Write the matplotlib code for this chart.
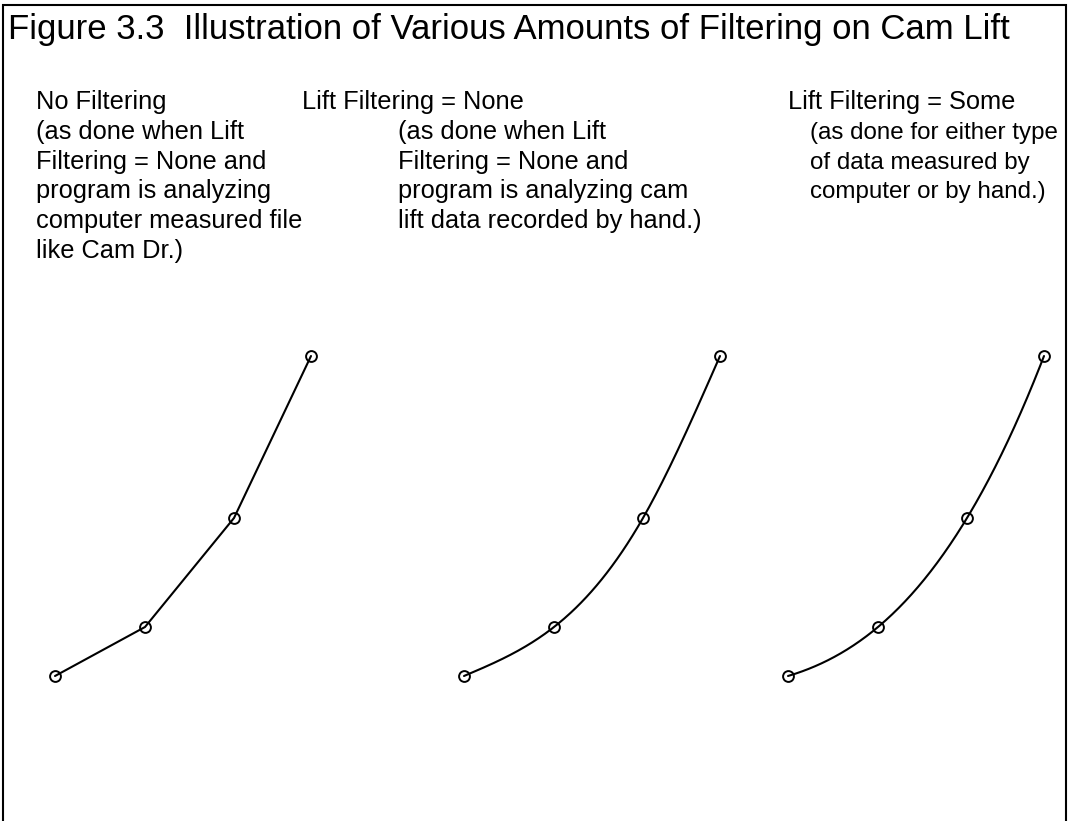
import numpy as np
import matplotlib
matplotlib.use('Agg')
import matplotlib.pyplot as plt
from matplotlib.patches import Rectangle

plt.rcParams['font.family'] = ['Liberation Sans', 'DejaVu Sans']

# cam angle (deg) and lift (in) of the four measured points
angle = [0.0, 9.0, 17.9, 25.6]
lift = [0.100, 0.149, 0.258, 0.420]

title = 'Figure 3.3  Illustration of Various Amounts of Filtering on Cam Lift'
headings = ['No Filtering', 'Lift Filtering = None', 'Lift Filtering = Some']
notes = [
    ['(as done when Lift', 'Filtering = None and', 'program is analyzing',
     'computer measured file', 'like Cam Dr.)'],
    ['(as done when Lift', 'Filtering = None and', 'program is analyzing cam',
     'lift data recorded by hand.)'],
    ['(as done for either type', 'of data measured by', 'computer or by hand.)'],
]
methods = ['straight', 'natural', 'cubic']


def natural_spline(x, y, n=200):
    x = np.asarray(x, float)
    y = np.asarray(y, float)
    k = len(x)
    h = np.diff(x)
    A = np.zeros((k, k))
    r = np.zeros(k)
    A[0, 0] = A[-1, -1] = 1
    for i in range(1, k - 1):
        A[i, i - 1] = h[i - 1]
        A[i, i] = 2 * (h[i - 1] + h[i])
        A[i, i + 1] = h[i]
        r[i] = 6 * ((y[i + 1] - y[i]) / h[i] - (y[i] - y[i - 1]) / h[i - 1])
    m = np.linalg.solve(A, r)
    xs = np.linspace(x[0], x[-1], n)
    ys = np.zeros_like(xs)
    for j, xv in enumerate(xs):
        i = min(np.searchsorted(x, xv, side='right') - 1, k - 2)
        t = xv - x[i]
        a = (m[i + 1] - m[i]) / (6 * h[i])
        b = m[i] / 2
        c = (y[i + 1] - y[i]) / h[i] - h[i] * (2 * m[i] + m[i + 1]) / 6
        ys[j] = y[i] + c * t + b * t ** 2 + a * t ** 3
    return xs, ys


W, H = 1069, 821
fig = plt.figure(figsize=(W / 100, H / 100), dpi=100)

# border (bottom edge runs off the page)
fig.patches.append(Rectangle((3 / W, -0.05), 1063 / W, 1.05 - 5 / H, transform=fig.transFigure,
                             fill=False, edgecolor='black', linewidth=1.5, clip_on=False))

fig.text(8 / W, 1 - 39 / H, title, fontsize=25, va='baseline', ha='left')

lefts = [30, 439, 763]
head_x = [36, 302, 788]
note_x = [36, 398, 810]
note_fs = [18.3, 18.3, 17.4]
for k in range(3):
    ax = fig.add_axes([lefts[k] / W, 95 / H, 330 / W, 400 / H])
    ax.set_xlim(-2.5, 30.5)
    ax.set_ylim(0.05, 0.45)
    ax.axis('off')
    if methods[k] == 'straight':
        xs, ys = angle, lift
    elif methods[k] == 'natural':
        xs, ys = natural_spline(angle, lift)
    else:
        c = np.polyfit(angle, lift, 3)
        xs = np.linspace(angle[0], angle[-1], 200)
        ys = np.polyval(c, xs)
    ax.plot(xs, ys, color='black', linewidth=1.5, solid_capstyle='round')
    ax.plot(angle, lift, linestyle='none', marker='o', markersize=7.8,
            markerfacecolor='none', markeredgecolor='black', markeredgewidth=1.4)

    fig.text(head_x[k] / W, 1 - 109 / H, headings[k], fontsize=18.3, va='baseline', ha='left')
    for i, line in enumerate(notes[k]):
        fig.text(note_x[k] / W, 1 - (139 + 29.7 * i) / H, line, fontsize=note_fs[k],
                 va='baseline', ha='left')

fig.savefig('out.png', dpi=100)
